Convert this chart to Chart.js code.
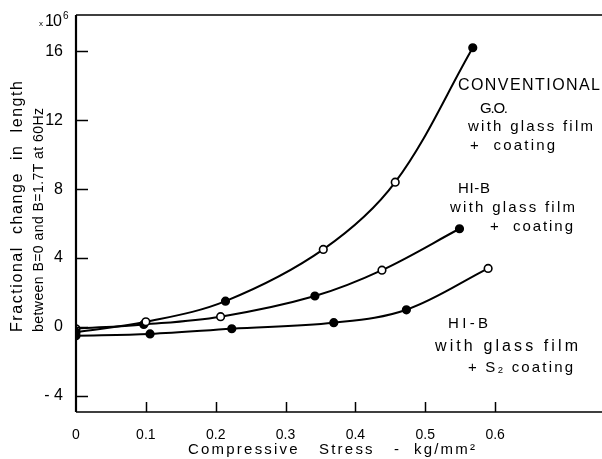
<!DOCTYPE html>
<html lang="en">
<head>
    <meta charset="UTF-8">
    <title>Magnetostriction vs compressive stress</title>
    <script src="https://cdn.jsdelivr.net/npm/chart.js"></script>
    <style>
        body { margin: 0; background: #fff; }
        canvas { display: block; }
    </style>
</head>
<body>
    <canvas id="stressChart" width="602" height="459"></canvas>

    <script>
        // axis ticks
        const xTicks = [0, 0.1, 0.2, 0.3, 0.4, 0.5, 0.6];
        const yTicks = [-4, 0, 4, 8, 12, 16];

        // conventional G.O. with glass film + coating
        const convStress = [0, 0.1, 0.214, 0.354, 0.457, 0.568];
        const convChange = [-0.3, 0.3, 1.5, 4.5, 8.4, 16.2];
        const convOpen = [false, true, false, true, true, false];

        // HI-B with glass film + coating
        const glassStress = [0, 0.097, 0.207, 0.342, 0.438, 0.549];
        const glassChange = [-0.1, 0.15, 0.6, 1.8, 3.3, 5.7];
        const glassOpen = [true, false, true, false, true, false];

        // HI-B with glass film + S2 coating
        const s2Stress = [0, 0.106, 0.223, 0.369, 0.473, 0.59];
        const s2Change = [-0.5, -0.4, -0.1, 0.25, 1.0, 3.4];
        const s2Open = [false, false, false, false, false, true];

        const FONT = '"Liberation Sans", Arial, sans-serif';

        function series(xs, ys, open) {
            return {
                data: xs.map((x, i) => ({ x: x, y: ys[i] })),
                borderColor: '#000',
                borderWidth: 2,
                tension: 0.35,
                pointRadius: 3.8,
                pointBorderWidth: 1.6,
                pointBorderColor: '#000',
                pointBackgroundColor: open.map(o => o ? '#fff' : '#000'),
                fill: false
            };
        }

        // text squeezed or stretched to a given width with letter spacing
        function spaced(ctx, text, x, y, width, size) {
            ctx.font = size + 'px ' + FONT;
            ctx.letterSpacing = '0px';
            const w = ctx.measureText(text).width;
            const ls = text.length > 1 ? (width - w) / (text.length - 1) : 0;
            ctx.letterSpacing = ls + 'px';
            ctx.textAlign = 'left';
            ctx.textBaseline = 'middle';
            ctx.fillText(text, x, y);
            ctx.letterSpacing = '0px';
        }

        const frame = {
            id: 'frame',
            afterDraw(chart) {
                const ctx = chart.ctx;
                const a = chart.chartArea;
                const xs = chart.scales.x, ys = chart.scales.y;
                ctx.save();
                ctx.strokeStyle = '#000';
                ctx.fillStyle = '#000';

                // box (left, top, bottom)
                ctx.lineWidth = 2.2;
                ctx.beginPath();
                ctx.moveTo(a.left, a.top); ctx.lineTo(a.left, a.bottom);
                ctx.stroke();
                ctx.lineWidth = 1.6;
                ctx.beginPath();
                ctx.moveTo(a.left, a.top); ctx.lineTo(602, a.top);
                ctx.moveTo(a.left, a.bottom); ctx.lineTo(602, a.bottom);
                ctx.stroke();

                // inward tick marks
                ctx.lineWidth = 1.5;
                ctx.beginPath();
                yTicks.forEach(v => {
                    const py = Math.round(ys.getPixelForValue(v)) + 0.5;
                    ctx.moveTo(a.left, py); ctx.lineTo(a.left + 12, py);
                });
                xTicks.slice(1).forEach(v => {
                    const px = Math.round(xs.getPixelForValue(v)) + 0.5;
                    ctx.moveTo(px, a.bottom); ctx.lineTo(px, a.bottom - 10);
                });
                ctx.stroke();

                // multiplier
                ctx.font = '8px ' + FONT;
                ctx.textBaseline = 'middle';
                ctx.fillText('x', 39, 24);
                spaced(ctx, '10', 45, 22, 17, 16);
                spaced(ctx, '6', 63, 16, 6, 10);

                // axis titles
                spaced(ctx, 'Compressive   Stress   -  kg/mm²', 188, 450, 287, 15);
                ctx.save();
                ctx.translate(18, 207);
                ctx.rotate(-Math.PI / 2);
                spaced(ctx, 'Fractional  change  in  length', -125, 0, 251, 16);
                ctx.restore();
                ctx.save();
                ctx.translate(39, 220);
                ctx.rotate(-Math.PI / 2);
                spaced(ctx, 'between B=0 and B=1.7T at 60Hz', -112, 0, 224, 14);
                ctx.restore();

                // curve labels
                spaced(ctx, 'CONVENTIONAL', 458, 86, 142, 16);
                spaced(ctx, 'G.O.', 480, 109, 28, 15);
                spaced(ctx, 'with glass film', 468, 127, 125, 15);
                spaced(ctx, '+  coating', 470, 146, 85, 15);

                spaced(ctx, 'HI-B', 458, 189, 32, 15);
                spaced(ctx, 'with glass film', 450, 208, 125, 15);
                spaced(ctx, '+  coating', 490, 227, 83, 15);

                spaced(ctx, 'HI-B', 448, 324, 40, 15);
                spaced(ctx, 'with glass film', 435, 347, 143, 16);
                spaced(ctx, '+ S₂ coating', 468, 368, 105, 15);

                ctx.restore();
            }
        };

        new Chart(document.getElementById('stressChart'), {
            type: 'line',
            data: {
                datasets: [
                    series(convStress, convChange, convOpen),
                    series(glassStress, glassChange, glassOpen),
                    series(s2Stress, s2Change, s2Open)
                ]
            },
            options: {
                responsive: false,
                animation: false,
                layout: { padding: { top: 15, right: 1, left: 0, bottom: 0 } },
                plugins: { legend: { display: false }, tooltip: { enabled: false } },
                scales: {
                    x: {
                        type: 'linear',
                        min: 0,
                        max: 0.745,
                        grid: { display: false },
                        border: { display: false },
                        afterBuildTicks: s => { s.ticks = xTicks.map(v => ({ value: v })); },
                        afterFit: s => { s.height = 47; },
                        ticks: {
                            color: '#000',
                            padding: 7,
                            maxRotation: 0,
                            font: { family: FONT, size: 14 },
                            callback: v => String(v)
                        }
                    },
                    y: {
                        type: 'linear',
                        min: -4.93,
                        max: 18.1,
                        grid: { display: false },
                        border: { display: false },
                        afterBuildTicks: s => { s.ticks = yTicks.map(v => ({ value: v })); },
                        afterFit: s => { s.width = 76; },
                        ticks: {
                            color: '#000',
                            padding: 5,
                            font: { family: FONT, size: 16 },
                            callback: v => v < 0 ? '- ' + Math.abs(v) : String(v)
                        }
                    }
                }
            },
            plugins: [frame]
        });
    </script>
</body>
</html>
